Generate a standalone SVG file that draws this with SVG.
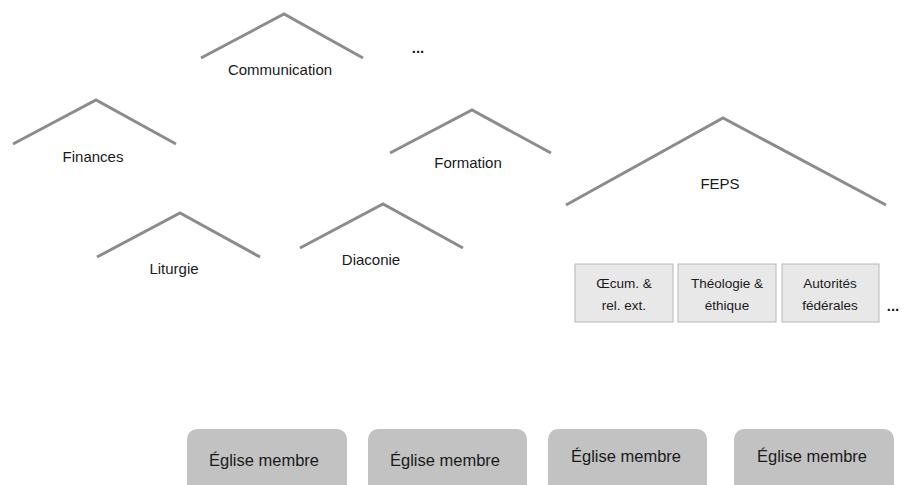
<svg xmlns="http://www.w3.org/2000/svg" width="909" height="485" viewBox="0 0 909 485">
<style>
.roof{fill:none;stroke:#8c8c8c;stroke-width:3;stroke-linejoin:miter}
text{font-family:"Liberation Sans",Arial,sans-serif;font-size:15px;fill:#1a1a1a;text-anchor:middle}
.sm{font-size:13.5px}
.big{font-size:16.5px}
.dots{font-weight:bold}
.box{fill:#e8e8e8;stroke:#b8b8b8;stroke-width:1}
.church{fill:#c2c2c2}
</style>
<rect width="909" height="485" fill="#ffffff"/>
<g id="communication"><polyline class="roof" points="201,58 284,14 363,58"/><text x="280" y="75">Communication</text></g>
<g id="more-top"><text class="dots" x="418" y="53">...</text></g>
<g id="finances"><polyline class="roof" points="13,144 96,100 176,144"/><text x="93" y="162">Finances</text></g>
<g id="formation"><polyline class="roof" points="390,153 472,110 551,153"/><text x="468" y="168">Formation</text></g>
<g id="feps"><polyline class="roof" points="566,205 723,118 886,205"/><text x="720" y="189">FEPS</text></g>
<g id="liturgie"><polyline class="roof" points="97,257 180,213 260,257"/><text x="174" y="274">Liturgie</text></g>
<g id="diaconie"><polyline class="roof" points="300,248 383,204 463,248"/><text x="371" y="265">Diaconie</text></g>
<g id="oecum"><rect class="box" x="575" y="264" width="98" height="58"/><text class="sm" x="624" y="288">Œcum. &amp;</text><text class="sm" x="624" y="310">rel. ext.</text></g>
<g id="theologie"><rect class="box" x="678" y="264" width="98" height="58"/><text class="sm" x="727" y="288">Théologie &amp;</text><text class="sm" x="727" y="310">éthique</text></g>
<g id="autorites"><rect class="box" x="782" y="264" width="97" height="58"/><text class="sm" x="830" y="288">Autorités</text><text class="sm" x="830" y="310">fédérales</text></g>
<g id="more-feps"><text class="dots" x="893" y="311">...</text></g>
<g id="eglise1"><rect class="church" x="187" y="429" width="160" height="66" rx="10"/><text class="big" x="264" y="466">Église membre</text></g>
<g id="eglise2"><rect class="church" x="368" y="429" width="159" height="66" rx="10"/><text class="big" x="445" y="466">Église membre</text></g>
<g id="eglise3"><rect class="church" x="548" y="429" width="159" height="66" rx="10"/><text class="big" x="626" y="462">Église membre</text></g>
<g id="eglise4"><rect class="church" x="734" y="429" width="160" height="66" rx="10"/><text class="big" x="812" y="462">Église membre</text></g>
<g id="connectors"></g>
</svg>
